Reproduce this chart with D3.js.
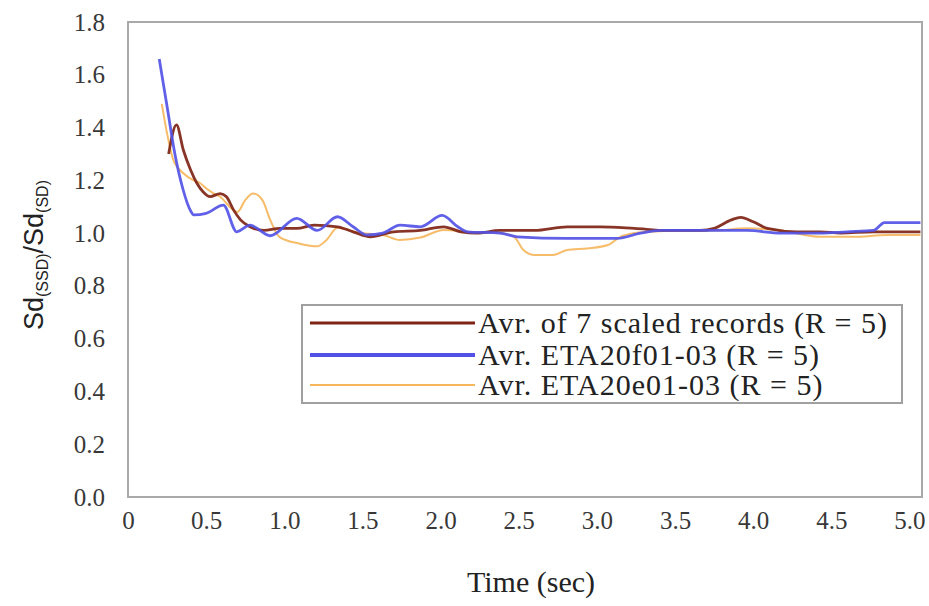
<!DOCTYPE html>
<html><head><meta charset="utf-8">
<script src="https://cdn.jsdelivr.net/npm/d3@7"></script>
<style>body{margin:0;background:#fff}</style>
</head><body>
<svg id="c" width="929" height="606"></svg>
<script>
const seriesNames = ["Avr. of 7 scaled records (R = 5)", "Avr. ETA20f01-03 (R = 5)", "Avr. ETA20e01-03 (R = 5)"];
const seriesColors = ["#7e2416", "#5252e6", "#f5b65c"];
const xTicks = [0,0.5,1,1.5,2,2.5,3,3.5,4,4.5,5];
const xTickLabels = ["0","0.5","1.0","1.5","2.0","2.5","3.0","3.5","4.0","4.5","5.0"];
const yTicks = [0,0.2,0.4,0.6,0.8,1.0,1.2,1.4,1.6,1.8];
const yTickLabels = ["0.0","0.2","0.4","0.6","0.8","1.0","1.2","1.4","1.6","1.8"];

// Avr. of 7 scaled records
const brownT = [0.26,0.31,0.354,0.40,0.44,0.48,0.525,0.59,0.63,0.675,0.72,0.78,0.87,0.97,1.08,1.19,1.34,1.44,1.55,1.70,1.87,2.02,2.13,2.23,2.38,2.60,2.81,3.02,3.24,3.45,3.66,3.75,3.86,3.92,4.0,4.09,4.28,4.43,4.56,4.77,5.07];
const brownV = [1.30,1.41,1.315,1.24,1.19,1.157,1.138,1.15,1.138,1.088,1.05,1.024,1.01,1.018,1.018,1.03,1.024,1.005,0.986,1.005,1.01,1.024,1.005,1.0,1.01,1.01,1.024,1.024,1.018,1.01,1.01,1.018,1.05,1.06,1.043,1.018,1.005,1.005,1.0,1.005,1.005];
// Avr. ETA20f01-03
const blueT = [0.2,0.25,0.30,0.35,0.40,0.42,0.50,0.61,0.696,0.78,0.91,1.08,1.21,1.34,1.44,1.53,1.63,1.74,1.87,2.01,2.11,2.17,2.38,2.49,2.81,3.13,3.28,3.41,3.54,3.75,3.96,4.18,4.43,4.60,4.77,4.84,5.07];
const blueV = [1.66,1.48,1.30,1.17,1.085,1.069,1.075,1.106,1.005,1.03,0.99,1.056,1.01,1.062,1.024,0.993,1.0,1.03,1.024,1.067,1.024,1.005,1.0,0.986,0.98,0.98,1.0,1.01,1.01,1.01,1.01,1.0,1.0,1.005,1.01,1.04,1.04];
// Avr. ETA20e01-03
const orangeT = [0.216,0.25,0.29,0.354,0.42,0.46,0.50,0.55,0.59,0.65,0.70,0.75,0.80,0.86,0.91,0.97,1.10,1.21,1.27,1.34,1.49,1.63,1.74,1.87,2.02,2.17,2.38,2.47,2.53,2.60,2.72,2.81,2.94,3.07,3.15,3.24,3.34,3.56,3.75,3.96,4.18,4.43,4.64,4.86,5.07];
const orangeV = [1.49,1.378,1.277,1.227,1.20,1.19,1.17,1.15,1.138,1.10,1.08,1.125,1.15,1.125,1.05,0.985,0.96,0.95,0.974,1.02,1.0,0.993,0.974,0.983,1.012,1.005,1.0,0.986,0.936,0.917,0.917,0.936,0.942,0.955,0.986,1.0,1.005,1.01,1.01,1.018,1.01,0.986,0.986,0.993,0.993];

const svg = d3.select("#c");
const pLeft = 128, pRight = 922, pTop = 22, pBottom = 497;
const x = d3.scaleLinear().domain([0, 5.08]).range([pLeft, pRight]);
const y = d3.scaleLinear().domain([0, 1.8]).range([pBottom, pTop]);
const SERIF = "Liberation Serif, Times New Roman, serif";

// frame
svg.append("rect").attr("x", pLeft).attr("y", pTop).attr("width", pRight-pLeft).attr("height", pBottom-pTop)
  .attr("fill", "#fff").attr("stroke", "#a9a9a9").attr("stroke-width", 2);

// axes
const gx = svg.append("g").attr("transform", `translate(0,${pBottom})`)
  .call(d3.axisBottom(x).tickValues(xTicks).tickSize(0).tickPadding(14).tickFormat((d,i)=>xTickLabels[i]));
const gy = svg.append("g").attr("transform", `translate(${pLeft},0)`)
  .call(d3.axisLeft(y).tickValues(yTicks).tickSize(0).tickPadding(23).tickFormat((d,i)=>yTickLabels[i]));
[gx, gy].forEach(g => {
  g.attr("font-family", SERIF).attr("font-size", 25);
  g.select(".domain").remove();
  g.selectAll("text").style("font-family", SERIF).style("font-size", "25px").attr("fill", "#383838");
});

// lines
const series = [
  {t: orangeT, v: orangeV, c: seriesColors[2], w: 2},
  {t: brownT, v: brownV, c: seriesColors[0], w: 2.8},
  {t: blueT, v: blueV, c: seriesColors[1], w: 2.8}
];
const line = d3.line().x(d => x(d[0])).y(d => y(d[1])).curve(d3.curveMonotoneX);
series.forEach(s => {
  svg.append("path").datum(s.t.map((t,i)=>[t, s.v[i]]))
    .attr("d", line).attr("fill", "none").attr("stroke", s.c).attr("stroke-width", s.w)
    .attr("stroke-linejoin", "round").attr("opacity", 0.92);
});

// legend
const lg = svg.append("g");
lg.append("rect").attr("x", 302).attr("y", 305).attr("width", 600).attr("height", 98)
  .attr("fill", "#fff").attr("stroke", "#a0a0a0").attr("stroke-width", 2);
const legendRows = [0, 1, 2];
const legendW = [3, 4, 2];
const legendY = [323, 355, 385];
legendRows.forEach((r, i) => {
  const yy = legendY[i];
  lg.append("line").attr("x1", 310).attr("x2", 475).attr("y1", yy).attr("y2", yy)
    .attr("stroke", seriesColors[i]).attr("stroke-width", legendW[i]);
  lg.append("text").attr("x", 478).attr("y", yy + 10).text(seriesNames[i])
    .style("font-family", SERIF).style("font-size", "30px").style("letter-spacing", "1px").attr("fill", "#222");
});

// axis titles
svg.append("text").attr("x", 531).attr("y", 592).attr("text-anchor", "middle")
  .style("font-family", SERIF).style("font-size", "30px").attr("fill", "#222").text("Time (sec)");
const yt = svg.append("text").attr("transform", "translate(43,255) rotate(-90)")
  .attr("text-anchor", "middle").style("font-family", "Liberation Sans, Arial, sans-serif")
  .style("font-size", "27px").attr("fill", "#222");
yt.append("tspan").text("Sd");
yt.append("tspan").style("font-size", "16px").attr("dy", 5).text("(SSD)");
yt.append("tspan").attr("dy", -5).text("/Sd");
yt.append("tspan").style("font-size", "16px").attr("dy", 5).text("(SD)");
</script>
</body></html>
